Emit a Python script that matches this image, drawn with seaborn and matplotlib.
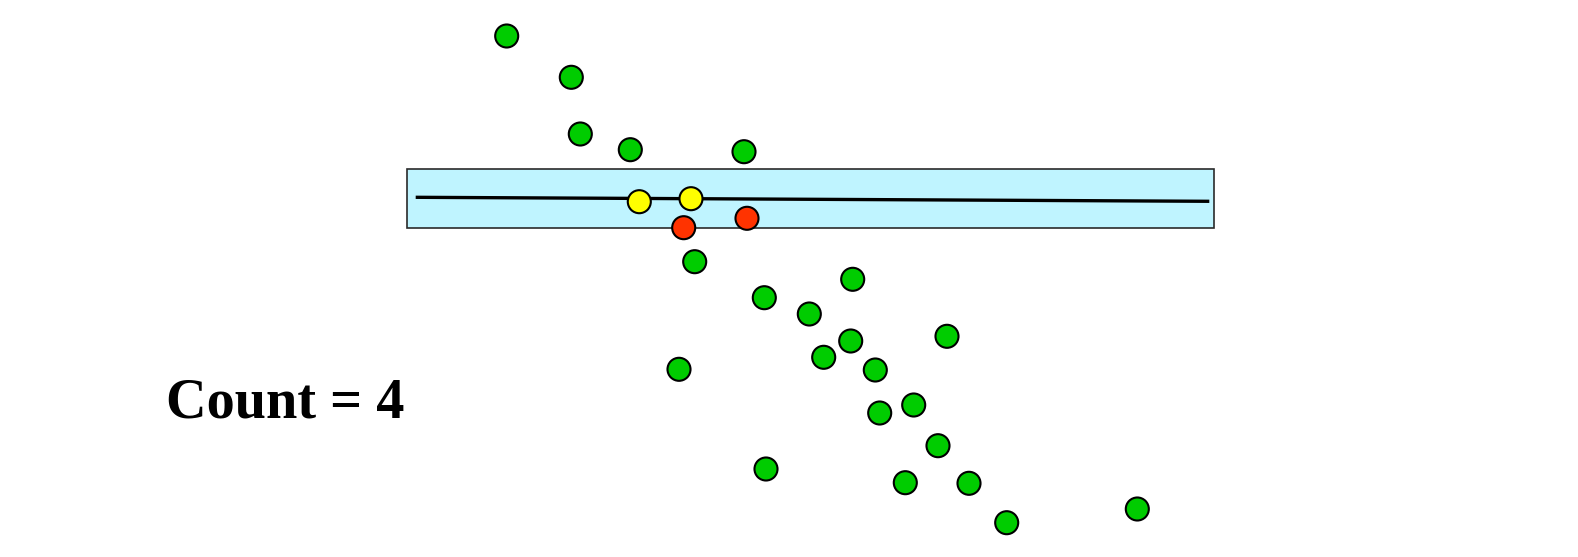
import matplotlib
matplotlib.use("Agg")
import matplotlib.pyplot as plt
from matplotlib.patches import Rectangle
import pandas as pd
import seaborn as sns

sns.set_theme(style="white")
plt.rcParams["font.family"] = ["Liberation Serif", "DejaVu Serif"]

# points, in picture units (x to the right, y downward)
green_x = [506.7, 571.3, 580.3, 630.3, 744.0, 694.7, 764.3, 852.7, 809.3, 947.0, 850.7,
           823.7, 875.3, 679.0, 913.7, 879.7, 938.0, 766.0, 905.3, 969.0, 1006.7, 1137.3]
green_y = [36.0, 77.3, 134.0, 149.7, 151.7, 261.7, 297.7, 279.3, 314.0, 336.3, 341.0,
           357.3, 370.0, 369.3, 405.0, 413.0, 445.7, 469.0, 482.7, 483.3, 522.7, 509.0]
yellow_x = [639.3, 691.0]
yellow_y = [201.7, 198.7]
red_x = [683.7, 747.0]
red_y = [227.7, 218.3]

line_x = [415.7, 1209.3]
line_y = [197.3, 201.3]
band_x = [407.3, 1214.3]
band_y = [169.3, 228.3]
count = 4

pts = pd.DataFrame({
    "x": green_x + yellow_x + red_x,
    "y": green_y + yellow_y + red_y,
    "kind": ["out"] * len(green_x) + ["on"] * len(yellow_x) + ["near"] * len(red_x),
})
colors = {"out": "#00CC00", "on": "#FFFF00", "near": "#FF3300"}

fig = plt.figure(figsize=(15.78, 5.57), dpi=100)
ax = fig.add_axes([0, 0, 1, 1])

ax.add_patch(Rectangle((band_x[0], band_y[0]), band_x[1] - band_x[0], band_y[1] - band_y[0],
                       facecolor="#BFF4FF", edgecolor="#2a2a2a", lw=1.2, zorder=1))
ax.plot(line_x, line_y, color="black", lw=2.4, solid_capstyle="butt", zorder=2)

sns.scatterplot(data=pts, x="x", y="y", hue="kind", palette=colors, s=275,
                edgecolor="black", linewidth=1.5, legend=False, zorder=3, ax=ax)
ax.set_xlim(0, 1578)
ax.set_ylim(557, 0)
ax.axis("off")

ax.text(166, 418, f"Count = {count}", fontsize=40.5, fontweight="bold",
        ha="left", va="baseline", color="black")

fig.savefig("out.png", dpi=100)
